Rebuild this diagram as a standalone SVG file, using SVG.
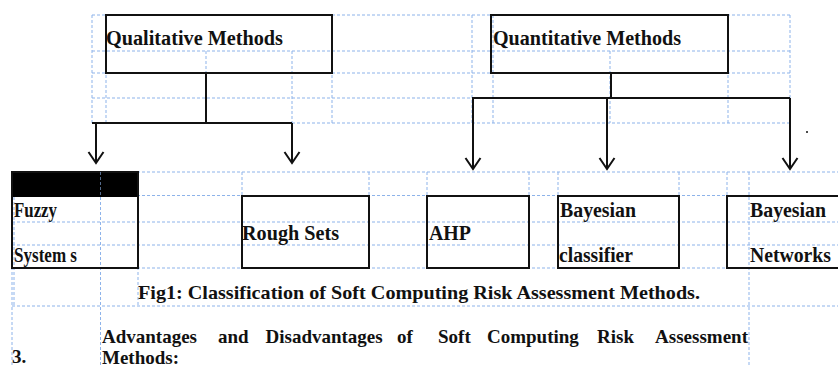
<svg xmlns="http://www.w3.org/2000/svg" width="838" height="367" viewBox="0 0 838 367">
  <style>
    .grid { stroke: #8db3ea; stroke-width: 1; stroke-dasharray: 3 2; fill: none; }
    .box { fill: none; stroke: #111111; stroke-width: 2; }
    .wire { stroke: #111111; stroke-width: 2; fill: none; }
    .lbl { font-family: "Liberation Serif", "Times New Roman", serif; font-weight: bold; font-size: 20px; fill: #111111; }
    .body { font-family: "Liberation Serif", "Times New Roman", serif; font-weight: bold; font-size: 19px; fill: #111111; }
  </style>
  <defs>
    <marker id="vhead" markerUnits="userSpaceOnUse" viewBox="-13 -9 15 18" refX="0" refY="0" markerWidth="15" markerHeight="18" orient="auto">
      <path d="M-11,-7.5 L0,0 L-11,7.5" fill="none" stroke="#111111" stroke-width="2"/>
    </marker>
  </defs>

  <rect width="838" height="367" fill="#ffffff"/>

  <!-- table cell boundaries (layout grid) -->
  <g id="gridlines" class="grid">
    <!-- upper table -->
    <line x1="92" y1="15" x2="790" y2="15"/>
    <line x1="92" y1="51" x2="790" y2="51"/>
    <line x1="92" y1="73" x2="790" y2="73"/>
    <line x1="92" y1="98" x2="472" y2="98"/>
    <line x1="92" y1="123" x2="790" y2="123"/>
    <line x1="92" y1="15" x2="92" y2="123"/>
    <line x1="106" y1="15" x2="106" y2="123"/>
    <line x1="206" y1="51" x2="206" y2="123"/>
    <line x1="292" y1="51" x2="292" y2="123"/>
    <line x1="332" y1="15" x2="332" y2="123"/>
    <line x1="472" y1="15" x2="472" y2="123"/>
    <line x1="493" y1="15" x2="493" y2="123"/>
    <line x1="610" y1="51" x2="610" y2="123"/>
    <line x1="728" y1="15" x2="728" y2="123"/>
    <line x1="790" y1="15" x2="790" y2="123"/>
    <!-- lower table -->
    <line x1="12" y1="172" x2="838" y2="172"/>
    <line x1="12" y1="195.5" x2="838" y2="195.5"/>
    <line x1="12" y1="222" x2="838" y2="222"/>
    <line x1="12" y1="245" x2="838" y2="245"/>
    <line x1="12" y1="268" x2="838" y2="268"/>
    <line x1="12" y1="306" x2="838" y2="306"/>
    <line x1="12" y1="172" x2="12" y2="367"/>
    <line x1="14" y1="172" x2="14" y2="306"/>
    <line x1="100.5" y1="172" x2="100.5" y2="367"/>
    <line x1="138" y1="172" x2="138" y2="306"/>
    <line x1="242" y1="172" x2="242" y2="196"/>
    <line x1="369" y1="172" x2="369" y2="196"/>
    <line x1="427" y1="172" x2="427" y2="196"/>
    <line x1="529" y1="172" x2="529" y2="196"/>
    <line x1="558" y1="172" x2="558" y2="196"/>
    <line x1="679" y1="172" x2="679" y2="196"/>
    <line x1="727" y1="172" x2="727" y2="196"/>
    <line x1="749" y1="172" x2="749" y2="367"/>
  </g>

  <!-- category nodes -->
  <g id="qualitative">
    <rect class="box" x="106" y="15" width="226" height="58"/>
    <text class="lbl" x="106" y="45" textLength="177" lengthAdjust="spacingAndGlyphs">Qualitative Methods</text>
  </g>
  <g id="quantitative">
    <rect class="box" x="491" y="15" width="237" height="58"/>
    <text class="lbl" x="493" y="45" textLength="188" lengthAdjust="spacingAndGlyphs">Quantitative Methods</text>
  </g>

  <!-- method nodes -->
  <g id="fuzzy">
    <rect x="12" y="172" width="126" height="25" fill="#000000"/>
    <rect class="box" x="12" y="172" width="126" height="96"/>
    <line x1="100.5" y1="172" x2="100.5" y2="197" stroke="#8db3ea" stroke-width="1" stroke-dasharray="3 2" opacity="0.6"/>
    <text class="lbl" x="14" y="217" textLength="43" lengthAdjust="spacingAndGlyphs">Fuzzy</text>
    <text class="lbl" x="14" y="262" textLength="63" lengthAdjust="spacingAndGlyphs">System s</text>
  </g>
  <g id="rough-sets">
    <rect class="box" x="242" y="196" width="127" height="72"/>
    <text class="lbl" x="242" y="239.5" textLength="97" lengthAdjust="spacingAndGlyphs">Rough Sets</text>
  </g>
  <g id="ahp">
    <rect class="box" x="427" y="196" width="102" height="72"/>
    <text class="lbl" x="429" y="240" textLength="42" lengthAdjust="spacingAndGlyphs">AHP</text>
  </g>
  <g id="bayesian-classifier">
    <rect class="box" x="558" y="196" width="121" height="72"/>
    <text class="lbl" x="560" y="217" textLength="76" lengthAdjust="spacingAndGlyphs">Bayesian</text>
    <text class="lbl" x="559" y="262" textLength="74" lengthAdjust="spacingAndGlyphs">classifier</text>
  </g>
  <g id="bayesian-networks">
    <rect class="box" x="727" y="196" width="120" height="72"/>
    <text class="lbl" x="750" y="217" textLength="76" lengthAdjust="spacingAndGlyphs">Bayesian</text>
    <text class="lbl" x="750" y="262" textLength="81" lengthAdjust="spacingAndGlyphs">Networks</text>
  </g>

  <!-- connectors -->
  <g id="connectors" class="wire">
    <line x1="206" y1="73" x2="206" y2="123"/>
    <line x1="92" y1="123" x2="292" y2="123"/>
    <line x1="96" y1="123" x2="96" y2="163" marker-end="url(#vhead)"/>
    <line x1="292" y1="123" x2="292" y2="163" marker-end="url(#vhead)"/>
    <line x1="611" y1="73" x2="611" y2="98"/>
    <line x1="472" y1="98" x2="790" y2="98"/>
    <line x1="473" y1="98" x2="473" y2="169" marker-end="url(#vhead)"/>
    <line x1="607" y1="98" x2="607" y2="169" marker-end="url(#vhead)"/>
    <line x1="790" y1="98" x2="790" y2="169" marker-end="url(#vhead)"/>
  </g>

  <circle cx="807" cy="132" r="1" fill="#111111"/>

  <!-- caption and following paragraph -->
  <text class="body" x="138" y="299" textLength="562" lengthAdjust="spacingAndGlyphs">Fig1: Classification of Soft Computing Risk Assessment Methods.</text>
  <g id="heading">
    <text class="body" x="102" y="343">Advantages</text>
    <text class="body" x="218" y="343">and</text>
    <text class="body" x="265.5" y="343">Disadvantages</text>
    <text class="body" x="397" y="343">of</text>
    <text class="body" x="438" y="343">Soft</text>
    <text class="body" x="487" y="343">Computing</text>
    <text class="body" x="597" y="343">Risk</text>
    <text class="body" x="748" y="343" text-anchor="end">Assessment</text>
    <text class="body" x="102" y="364">Methods:</text>
    <text class="body" x="12" y="363">3.</text>
  </g>
</svg>
